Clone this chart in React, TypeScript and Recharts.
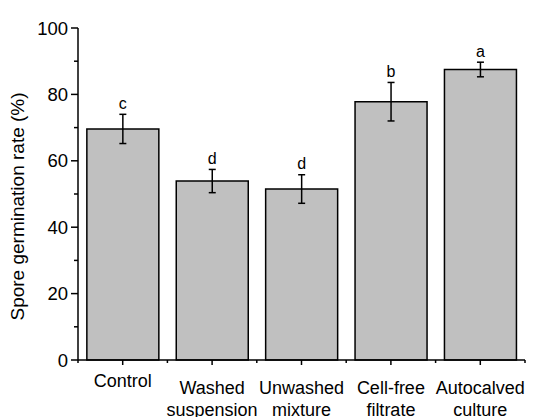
import React from 'react';
import { BarChart, Bar, XAxis, YAxis, ErrorBar, LabelList, Label } from 'recharts';

const categories = ['Control', 'Washed suspension', 'Unwashed mixture', 'Cell-free filtrate', 'Autocalved culture'];
const germination = [69.6, 53.9, 51.5, 77.8, 87.5];
const stdErr = [4.4, 3.5, 4.3, 5.8, 2.2];
const groups = ['c', 'd', 'd', 'b', 'a'];
const yTicks = [0, 10, 20, 30, 40, 50, 60, 70, 80, 90, 100];

const data = categories.map((name, i) => ({
  name,
  rate: germination[i],
  err: stdErr[i],
  group: groups[i],
}));

const FONT = '"Liberation Sans", Arial, sans-serif';
const W = 538;
const H = 417;
const margin = { top: 28, right: 13, left: 0, bottom: 0 };
const yAxisWidth = 78;
const band = (W - margin.left - margin.right - yAxisWidth) / categories.length;

function YTick(props: any) {
  const { x, y, payload } = props;
  const axisX = x + 10; // tickSize + tickMargin
  const major = payload.value % 20 === 0;
  return (
    <g>
      <line x1={axisX - (major ? 7 : 4)} x2={axisX} y1={y} y2={y} stroke="#000" strokeWidth={1.5} />
      {major && (
        <text x={axisX - 10} y={y} dy={6.5} textAnchor="end" fontSize={18.5} fontFamily={FONT} fill="#000">
          {payload.value}
        </text>
      )}
    </g>
  );
}

function XTick(props: any) {
  const { x, y, payload, index } = props;
  const axisY = y - 5; // tickSize + tickMargin
  const lines = String(payload.value).split(' ');
  const first = lines.length > 1 ? 34 : 27;
  const left = x - band / 2;
  return (
    <g>
      <line x1={left} x2={left} y1={axisY} y2={axisY + 3} stroke="#000" strokeWidth={1.5} />
      {index === categories.length - 1 && (
        <line x1={x + band / 2} x2={x + band / 2} y1={axisY} y2={axisY + 3} stroke="#000" strokeWidth={1.5} />
      )}
      <text textAnchor="middle" fontSize={18} fontFamily={FONT} fill="#000">
        {lines.map((l, i) => (
          <tspan key={i} x={x} y={axisY + first + i * 22}>
            {l}
          </tspan>
        ))}
      </text>
    </g>
  );
}

function GroupLabel(props: any) {
  const { x, y, width, height, index } = props;
  const d = data[index];
  const top = y - (d.err * height) / d.rate;
  return (
    <text x={x + width / 2} y={top - 5.5} textAnchor="middle" fontSize={16} fontFamily={FONT} fill="#000">
      {d.group}
    </text>
  );
}

function YLabel() {
  return (
    <text
      x={24}
      y={206.5}
      transform="rotate(-90, 24, 206.5)"
      textAnchor="middle"
      fontSize={19}
      fontFamily={FONT}
      fill="#000"
    >
      Spore germination rate (%)
    </text>
  );
}

export default function App() {
  return (
    <div style={{ position: 'absolute', left: 0, top: 0, background: '#fff' }}>
      <BarChart width={W} height={H} data={data} margin={margin} barCategoryGap="9.9%">
        <XAxis
          dataKey="name"
          interval={0}
          height={57}
          tickSize={5}
          tickMargin={0}
          axisLine={{ stroke: '#000', strokeWidth: 1.5 }}
          tickLine={{ stroke: '#000', strokeWidth: 1.5 }}
          tick={<XTick />}
        />
        <YAxis
          width={yAxisWidth}
          domain={[0, 100]}
          ticks={yTicks}
          interval={0}
          tickSize={7}
          tickMargin={3}
          tickLine={false}
          axisLine={{ stroke: '#000', strokeWidth: 1.5 }}
          tick={<YTick />}
        >
          <Label content={<YLabel />} />
        </YAxis>
        <Bar dataKey="rate" fill="#c0c0c0" stroke="#000" strokeWidth={1.5} isAnimationActive={false}>
          <ErrorBar dataKey="err" width={3.5} stroke="#000" strokeWidth={1.5} />
          <LabelList dataKey="group" content={<GroupLabel />} />
        </Bar>
      </BarChart>
    </div>
  );
}
